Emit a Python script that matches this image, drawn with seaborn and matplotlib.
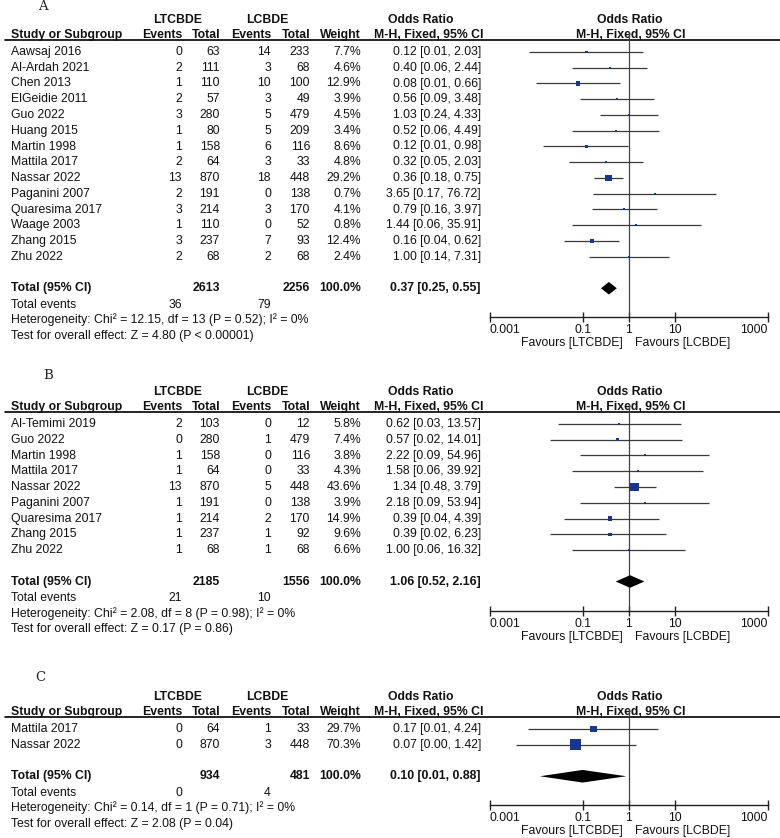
import numpy as np
import pandas as pd
import seaborn as sns
import matplotlib.pyplot as plt
from matplotlib.ticker import NullLocator

# ---- panel A ----
a_study = ['Aawsaj 2016', 'Al-Ardah 2021', 'Chen 2013', 'ElGeidie 2011', 'Guo 2022',
           'Huang 2015', 'Martin 1998', 'Mattila 2017', 'Nassar 2022', 'Paganini 2007',
           'Quaresima 2017', 'Waage 2003', 'Zhang 2015', 'Zhu 2022']
a_ev1 = [0, 2, 1, 2, 3, 1, 1, 2, 13, 2, 3, 1, 3, 2]
a_tot1 = [63, 111, 110, 57, 280, 80, 158, 64, 870, 191, 214, 110, 237, 68]
a_ev2 = [14, 3, 10, 3, 5, 5, 6, 3, 18, 0, 3, 0, 7, 2]
a_tot2 = [233, 68, 100, 49, 479, 209, 116, 33, 448, 138, 170, 52, 93, 68]
a_weight = [7.7, 4.6, 12.9, 3.9, 4.5, 3.4, 8.6, 4.8, 29.2, 0.7, 4.1, 0.8, 12.4, 2.4]
a_or = [0.12, 0.40, 0.08, 0.56, 1.03, 0.52, 0.12, 0.32, 0.36, 3.65, 0.79, 1.44, 0.16, 1.00]
a_lo = [0.007, 0.06, 0.01, 0.09, 0.24, 0.06, 0.014, 0.05, 0.18, 0.17, 0.16, 0.06, 0.04, 0.14]
a_hi = [2.03, 2.44, 0.66, 3.48, 4.33, 4.49, 0.98, 2.03, 0.75, 76.72, 3.97, 35.91, 0.62, 7.31]
a_total = [2613, 2256]
a_events = [36, 79]
a_pooled = [0.37, 0.25, 0.55]
a_het = 'Heterogeneity: Chi² = 12.15, df = 13 (P = 0.52); I² = 0%'
a_test = 'Test for overall effect: Z = 4.80 (P < 0.00001)'

# ---- panel B ----
b_study = ['Al-Temimi 2019', 'Guo 2022', 'Martin 1998', 'Mattila 2017', 'Nassar 2022',
           'Paganini 2007', 'Quaresima 2017', 'Zhang 2015', 'Zhu 2022']
b_ev1 = [2, 0, 1, 1, 13, 1, 1, 1, 1]
b_tot1 = [103, 280, 158, 64, 870, 191, 214, 237, 68]
b_ev2 = [0, 1, 0, 0, 5, 0, 2, 1, 1]
b_tot2 = [12, 479, 116, 33, 448, 138, 170, 92, 68]
b_weight = [5.8, 7.4, 3.8, 4.3, 43.6, 3.9, 14.9, 9.6, 6.6]
b_or = [0.62, 0.57, 2.22, 1.58, 1.34, 2.18, 0.39, 0.39, 1.00]
b_lo = [0.03, 0.02, 0.09, 0.06, 0.48, 0.09, 0.04, 0.02, 0.06]
b_hi = [13.57, 14.01, 54.96, 39.92, 3.79, 53.94, 4.39, 6.23, 16.32]
b_total = [2185, 1556]
b_events = [21, 10]
b_pooled = [1.06, 0.52, 2.16]
b_het = 'Heterogeneity: Chi² = 2.08, df = 8 (P = 0.98); I² = 0%'
b_test = 'Test for overall effect: Z = 0.17 (P = 0.86)'

# ---- panel C ----
c_study = ['Mattila 2017', 'Nassar 2022']
c_ev1 = [0, 0]
c_tot1 = [64, 870]
c_ev2 = [1, 3]
c_tot2 = [33, 448]
c_weight = [29.7, 70.3]
c_or = [0.17, 0.07]
c_lo = [0.0066, 0.0037]
c_hi = [4.24, 1.42]
c_total = [934, 481]
c_events = [0, 4]
c_pooled = [0.10, 0.012, 0.88]
c_het = 'Heterogeneity: Chi² = 0.14, df = 1 (P = 0.71); I² = 0%'
c_test = 'Test for overall effect: Z = 2.08 (P = 0.04)'

ticks = [0.001, 0.1, 1, 10, 1000]
tick_labels = ['0.001', '0.1', '1', '10', '1000']

sns.set_theme(style='white')
plt.rcParams['font.family'] = ['Liberation Sans', 'DejaVu Sans']

FS = 8.85
ROW = 15.75
BLUE = '#16368f'
LINE = '#3a3a3a'
W, H = 780, 838

fig = plt.figure(figsize=(7.8, 8.38), dpi=100)
tab = fig.add_axes([0, 0, 1, 1])
tab.set_xlim(0, W)
tab.set_ylim(H, 0)
tab.axis('off')

# right edges of the numeric columns
cols = [182, 220, 271, 310, 361, 481]


def draw_panel(letter, letter_xy, row0, study, ev1, tot1, ev2, tot2, weight, orr, lo, hi,
               total, events, pooled, het, test):
    n = len(study)
    y = lambda r: row0 + ROW * r
    tab.text(letter_xy[0], letter_xy[1], letter, family='DejaVu Serif', fontsize=9.5,
             ha='center', va='center', color='#222')

    hb = dict(fontsize=FS, fontweight='bold', va='center', color='#111')
    tab.text(178, y(-2.06), 'LTCBDE', ha='center', **hb)
    tab.text(267, y(-2.06), 'LCBDE', ha='center', **hb)
    tab.text(421, y(-2.06), 'Odds Ratio', ha='center', **hb)
    tab.text(630, y(-2.06), 'Odds Ratio', ha='center', **hb)
    heads = ['Events', 'Total', 'Events', 'Total', 'Weight', 'M-H, Fixed, 95% CI']
    tab.text(11, y(-1.1), 'Study or Subgroup', ha='left', **hb)
    for cx, h in zip(cols, heads):
        tab.text(cx + (2 if h.startswith('M-H') else 0), y(-1.1), h, ha='right', **hb)
    tab.text(631, y(-1.1), 'M-H, Fixed, 95% CI', ha='center', **hb)
    tab.plot([5, W], [y(-0.78)] * 2, color='black', lw=1.2)

    nb = dict(fontsize=FS, va='center', color='#111')
    for i in range(n):
        tab.text(11, y(i), study[i], ha='left', **nb)
        vals = [str(ev1[i]), str(tot1[i]), str(ev2[i]), str(tot2[i]), f'{weight[i]:.1f}%',
                f'{orr[i]:.2f} [{lo[i]:.2f}, {hi[i]:.2f}]']
        for cx, v in zip(cols, vals):
            tab.text(cx, y(i), v, ha='right', **nb)

    tr = n + 1
    tab.text(11, y(tr), 'Total (95% CI)', ha='left', **hb)
    tvals = ['', str(total[0]), '', str(total[1]), '100.0%',
             f'{pooled[0]:.2f} [{pooled[1]:.2f}, {pooled[2]:.2f}]']
    for cx, v in zip(cols, tvals):
        tab.text(cx, y(tr), v, ha='right', **hb)
    tab.text(11, y(tr + 1.05), 'Total events', ha='left', **nb)
    tab.text(cols[0], y(tr + 1.05), str(events[0]), ha='right', **nb)
    tab.text(cols[2], y(tr + 1.05), str(events[1]), ha='right', **nb)
    tab.text(11, y(tr + 2.02), het, ha='left', **nb)
    tab.text(11, y(tr + 3.02), test, ha='left', **nb)

    # forest plot
    top_r, bot_r = -1.25, n + 2.85
    top_px, bot_px = y(top_r), y(bot_r)
    x0, x1 = 490, 767.7
    fx = fig.add_axes([x0 / W, 1 - bot_px / H, (x1 - x0) / W, (bot_px - top_px) / H])
    fx.set_facecolor('none')
    fx.set_xscale('log')
    fx.set_xlim(0.001, 1000)
    fx.set_ylim(bot_r, top_r)
    rows = np.arange(n)
    fx.axvline(1, color='#444', lw=0.9, zorder=1)
    fx.hlines(rows, lo, hi, color=LINE, lw=0.9, zorder=2)
    side_px = np.maximum(2.0, 1.5 * np.sqrt(np.array(weight)) - 1.2)
    df = pd.DataFrame({'or': orr, 'row': rows})
    sns.scatterplot(data=df, x='or', y='row', marker='s', color=BLUE, s=(side_px * 0.72) ** 2,
                    linewidth=0, legend=False, ax=fx, zorder=3)
    fx.fill([pooled[1], pooled[0], pooled[2], pooled[0]],
            [tr, tr - 0.4, tr, tr + 0.4], color='black', lw=0, zorder=3)
    for s in ['top', 'right', 'left']:
        fx.spines[s].set_visible(False)
    fx.spines['bottom'].set_color('#222')
    fx.spines['bottom'].set_linewidth(1.0)
    fx.set_xticks(ticks)
    fx.set_xticklabels(tick_labels)
    fx.xaxis.set_minor_locator(NullLocator())
    fx.set_yticks([])
    fx.set_xlabel('')
    fx.set_ylabel('')
    fx.tick_params(axis='x', bottom=True, direction='inout', length=7, width=1, pad=1.5,
                   labelsize=FS, colors='#222', labelcolor='#111')
    tl = fx.get_xticklabels()
    tl[0].set_ha('left')
    tl[-1].set_ha('right')
    tab.text(623, bot_px + 26, 'Favours [LTCBDE]', ha='right', **nb)
    tab.text(635, bot_px + 26, 'Favours [LCBDE]', ha='left', **nb)


draw_panel('A', (43, 7), 52, a_study, a_ev1, a_tot1, a_ev2, a_tot2, a_weight, a_or, a_lo, a_hi,
           a_total, a_events, a_pooled, a_het, a_test)
draw_panel('B', (48, 375), 424, b_study, b_ev1, b_tot1, b_ev2, b_tot2, b_weight, b_or, b_lo,
           b_hi, b_total, b_events, b_pooled, b_het, b_test)
draw_panel('C', (40, 677), 729, c_study, c_ev1, c_tot1, c_ev2, c_tot2, c_weight, c_or, c_lo,
           c_hi, c_total, c_events, c_pooled, c_het, c_test)

fig.savefig('out.png', dpi=100)
